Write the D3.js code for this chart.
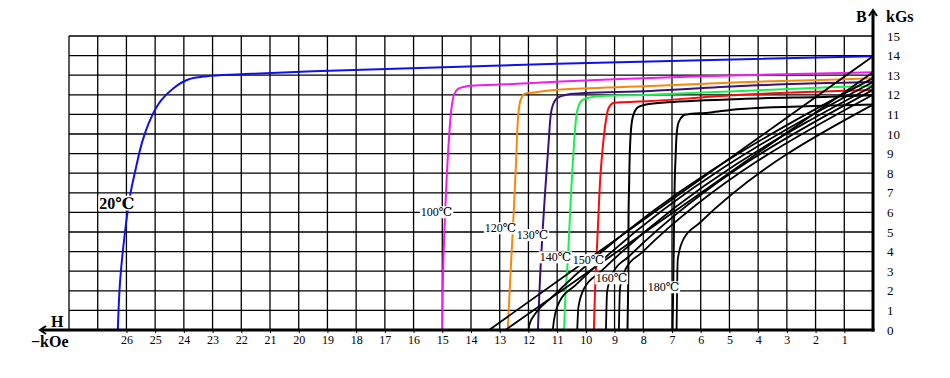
<!DOCTYPE html>
<html>
<head>
<meta charset="utf-8">
<script src="https://cdn.jsdelivr.net/npm/d3@7"></script>
<style>
  body { margin: 0; background: #fff; }
  svg { display: block; }
  text { font-family: 'Liberation Serif', 'DejaVu Serif', 'Noto Sans CJK SC', serif; fill: #000; }
</style>
</head>
<body>
<svg id="chart" width="950" height="378"></svg>
<script>
// tick labels
const hTicks = [26, 25, 24, 23, 22, 21, 20, 19, 18, 17, 16, 15, 14, 13, 12, 11, 10, 9, 8, 7, 6, 5, 4, 3, 2, 1]
const bTicks = [0, 1, 2, 3, 4, 5, 6, 7, 8, 9, 10, 11, 12, 13, 14, 15]
const temps = ['20℃', '100℃', '120℃', '130℃', '140℃', '150℃', '160℃', '180℃']

// intrinsic curves, [H (-kOe), B (kGs)]
const j20 = [[26.3, 0], [26.22, 2.5], [26.05, 5], [25.88, 6.8], [25.68, 8.2], [25.45, 9.6], [25.15, 10.8], [24.8, 11.7], [24.35, 12.35], [23.85, 12.78], [23.2, 12.95], [22, 13.05], [19.5, 13.2], [11, 13.58], [0, 13.97]]
const j100 = [[15.0, 0], [14.97, 3], [14.9, 6], [14.8, 9], [14.68, 11.3], [14.58, 12.05], [14.45, 12.3], [14.1, 12.45], [13, 12.52], [10.87, 12.68], [7.74, 12.86], [4.6, 13.0], [1.5, 13.1], [0, 13.15]]
const j120 = [[12.72, 0], [12.62, 3], [12.54, 5.2], [12.43, 8.6], [12.36, 10.85], [12.28, 11.7], [12.15, 12.04], [11.8, 12.12], [10.87, 12.27], [7.74, 12.45], [4.6, 12.64], [1.5, 12.77], [0, 12.85]]
const j130 = [[11.67, 0], [11.6, 2.5], [11.5, 5.2], [11.3, 9.5], [11.2, 11.2], [11.1, 11.65], [10.97, 11.86], [10.63, 12.02], [7.74, 12.2], [4.6, 12.45], [1.5, 12.6], [0, 12.65]]
const j140 = [[10.76, 0], [10.7, 2], [10.63, 3.56], [10.45, 8.65], [10.3, 11.2], [10.2, 11.6], [10.1, 11.75], [9.72, 11.9], [7.74, 12.0], [4.6, 12.2], [1.5, 12.38], [0, 12.45]]
const j150 = [[9.72, 0], [9.68, 2], [9.58, 5.24], [9.48, 8.14], [9.3, 10.7], [9.2, 11.35], [9.06, 11.57], [8.78, 11.62], [7.74, 11.68], [4.6, 12.0], [1.5, 12.18], [0, 12.25]]
const j160 = [[8.55, 0], [8.52, 3], [8.5, 7], [8.37, 10.84], [8.2, 11.35], [7.9, 11.5], [7.15, 11.62], [4.6, 11.79], [1.5, 11.9], [0, 11.98]]
const j180 = [[6.98, 0], [6.95, 3], [6.88, 8.65], [6.77, 10.6], [6.6, 10.95], [6.46, 11.0], [5.66, 11.1], [4.6, 11.28], [1.5, 11.45], [0, 11.5]]

// normal curves (black diagonals)
const b20 = [[13.37, 0], [0, 13.97]]
const b100 = [[12.8, 0], [0, 13.15]]
const b120 = [[12.0, 0], [11.96, 0.3], [11.75, 0.85], [11.2, 1.65], [0, 12.85]]
const b130 = [[11.15, 0], [11.11, 0.5], [10.9, 1.5], [10.35, 2.3], [0, 12.65]]
const b140 = [[10.3, 0], [10.26, 1.15], [10.05, 2.15], [9.5, 2.95], [0, 12.45]]
const b150 = [[9.3, 0], [9.26, 1.95], [9.05, 2.95], [8.5, 3.75], [0, 12.25]]
const b160 = [[8.85, 0], [8.81, 2.15], [8.6, 3.15], [8.05, 3.95], [0, 12.0]]
const b180 = [[6.84, 0], [6.8, 3.6], [6.59, 4.66], [6.04, 5.46], [0, 11.5]]

const intrinsic = [j20, j100, j120, j130, j140, j150, j160, j180]
const normal = [b20, b100, b120, b130, b140, b150, b160, b180]

const colors = ['#1010ea', '#f01cf0', '#f58a0a', '#3a1280', '#18f04c', '#ff0a0a', '#000', '#000']
// where each temperature label sits, in data units
const labelSpots = [[26.33, 6.48], [15.2, 6.02], [12.97, 5.2], [11.86, 4.85], [11.06, 3.72], [9.91, 3.57], [9.11, 2.65], [7.3, 2.19]]

const svg = d3.select('#chart')
const x = d3.scaleLinear().domain([28, 0]).range([69, 873])
const y = d3.scaleLinear().domain([0, 15]).range([330, 36])

/**
 * Draws the square grid behind the curves.
 */
function drawGrid () {
  const g = svg.append('g').attr('stroke', '#000').attr('stroke-width', 1.3)
  g.selectAll('.v')
    .data(d3.range(1, 29))
    .join('line')
    .attr('x1', (d) => x(d)).attr('x2', (d) => x(d))
    .attr('y1', y(0)).attr('y2', y(15))
  g.selectAll('.h')
    .data(d3.range(1, 16))
    .join('line')
    .attr('x1', x(28)).attr('x2', x(0))
    .attr('y1', (d) => y(d)).attr('y2', (d) => y(d))
}

/**
 * Draws both axes with their arrows, ticks and unit labels.
 */
function drawAxes () {
  const xAxis = svg.append('g')
    .attr('transform', 'translate(0,' + y(0) + ')')
    .call(d3.axisBottom(x).tickValues(hTicks).tickSize(3).tickPadding(2).tickFormat(d3.format('d')))
  xAxis.select('.domain').remove()
  xAxis.selectAll('text').attr('font-size', 12).attr('font-family', 'Liberation Serif')
  xAxis.selectAll('line').attr('stroke', '#000')

  const yAxis = svg.append('g')
    .attr('transform', 'translate(' + x(0) + ',0)')
    .call(d3.axisRight(y).tickValues(bTicks).tickSize(0).tickPadding(14))
  yAxis.select('.domain').remove()
  yAxis.selectAll('text').attr('font-size', 13).attr('font-family', 'Liberation Serif')

  // thick axis lines
  svg.append('line').attr('x1', 42).attr('x2', x(0) + 1.5).attr('y1', y(0)).attr('y2', y(0))
    .attr('stroke', '#000').attr('stroke-width', 3)
  svg.append('line').attr('x1', x(0)).attr('x2', x(0)).attr('y1', y(0) + 1.5).attr('y2', 11)
    .attr('stroke', '#000').attr('stroke-width', 3)
  svg.append('path').attr('d', 'M46,326 L40,330 L46,334').attr('fill', 'none').attr('stroke', '#000').attr('stroke-width', 2)
  svg.append('path').attr('d', `M${x(0) - 4},16 L${x(0)},10 L${x(0) + 4},16`).attr('fill', 'none').attr('stroke', '#000').attr('stroke-width', 2)

  const bold = (t, px, py) => svg.append('text').text(t).attr('x', px).attr('y', py)
    .attr('font-size', 16).attr('font-weight', 'bold')
  bold('B', 856, 22)
  bold('kGs', 886, 22)
  bold('H', 51, 327)
  bold('\u2212kOe', 31, 347)
}

/**
 * Draws the intrinsic and normal demagnetisation curves.
 */
function drawCurves () {
  const smooth = d3.line()
    .x((d) => x(d[0]))
    .y((d) => y(d[1]))
    .curve(d3.curveCatmullRom.alpha(0.5))
  const knee = d3.line()
    .x((d) => x(d[0]))
    .y((d) => y(d[1]))
    .curve(d3.curveMonotoneX)

  svg.append('g').selectAll('path')
    .data(intrinsic)
    .join('path')
    .attr('d', smooth)
    .attr('fill', 'none')
    .attr('stroke', (d, i) => colors[i])
    .attr('stroke-width', 2)

  svg.append('g').selectAll('path')
    .data(normal)
    .join('path')
    .attr('d', knee)
    .attr('fill', 'none')
    .attr('stroke', '#000')
    .attr('stroke-width', 1.8)
}

/**
 * Puts the temperature labels on a white patch over the curves.
 */
function drawLabels () {
  const g = svg.append('g')
  temps.forEach((t, i) => {
    const big = i === 0
    const text = g.append('text')
      .text(t)
      .attr('x', x(labelSpots[i][0]))
      .attr('y', y(labelSpots[i][1]))
      .attr('dy', '0.35em')
      .attr('text-anchor', 'middle')
      .attr('font-size', big ? 16 : 12)
      .attr('font-weight', big ? 'bold' : 'normal')
    const box = text.node().getBBox()
    g.insert('rect', () => text.node())
      .attr('x', box.x - 1).attr('y', box.y + 1)
      .attr('width', box.width + 2).attr('height', box.height - 2)
      .attr('fill', '#fff')
  })
}

drawGrid()
drawCurves()
drawLabels()
drawAxes()
</script>
</body>
</html>
